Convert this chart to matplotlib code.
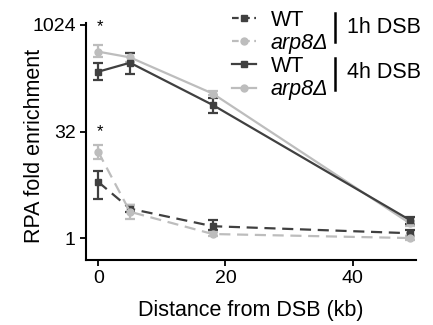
import matplotlib
matplotlib.use("Agg")
import matplotlib.pyplot as plt
from matplotlib.lines import Line2D

plt.rcParams['font.family'] = ['Liberation Sans', 'DejaVu Sans']

# --- datos ---
distance = [0, 5, 18, 49]

wt_1h = [6.2, 2.6, 1.47, 1.17]
wt_1h_lo = [3.6, 2.3, 1.30, 1.07]
wt_1h_hi = [8.9, 2.9, 1.80, 1.30]
arp8_1h = [16.5, 2.35, 1.14, 1.0]
arp8_1h_lo = [12.9, 1.85, 1.08, 0.95]
arp8_1h_hi = [20.7, 2.9, 1.22, 1.06]

wt_4h = [224, 300, 76, 1.8]
wt_4h_lo = [171, 208, 58, 1.6]
wt_4h_hi = [294, 416, 95, 2.0]
arp8_4h = [430, 357, 110, 1.62]
arp8_4h_lo = [362, 310, 104, 1.5]
arp8_4h_hi = [534, 410, 118, 1.75]

legend_labels = ['WT', 'arp8Δ', 'WT', 'arp8Δ']
group_labels = ['1h DSB', '4h DSB']

DARK = '#404040'
LIGHT = '#BDBDBD'
FS = 15.5

fig = plt.figure(figsize=(4.33, 3.25), dpi=100)
ax = fig.add_axes([0.199, 0.2, 0.762, 0.729])

series = [
    (wt_1h, wt_1h_lo, wt_1h_hi, DARK, 's', (0, (5, 3))),
    (arp8_1h, arp8_1h_lo, arp8_1h_hi, LIGHT, 'o', (0, (5, 3))),
    (arp8_4h, arp8_4h_lo, arp8_4h_hi, LIGHT, 'o', '-'),
    (wt_4h, wt_4h_lo, wt_4h_hi, DARK, 's', '-'),
]
for y, lo, hi, col, mk, ls in series:
    err = [[v - l for v, l in zip(y, lo)], [h - v for v, h in zip(y, hi)]]
    ax.errorbar(distance, y, yerr=err, color=col, marker=mk, markersize=5,
                linestyle=ls, linewidth=1.6, elinewidth=1.6, capsize=3.5,
                capthick=1.6)

ax.set_yscale('log', base=2)
ax.set_ylim(2 ** -1.03, 2 ** 10.09)
ax.set_xlim(-1.9, 50)
ax.set_yticks([1, 32, 1024])
ax.set_yticklabels(['1', '32', '1024'])
ax.set_yticks([], minor=True)
ax.set_xticks([0, 20, 40])
ax.tick_params(labelsize=14, width=1.3, length=4, color='black')
for s in ['top', 'right']:
    ax.spines[s].set_visible(False)
for s in ['left', 'bottom']:
    ax.spines[s].set_linewidth(1.5)

ax.set_xlabel('Distance from DSB (kb)', fontsize=FS, labelpad=9)
ax.set_ylabel('RPA fold enrichment', fontsize=FS)
ax.yaxis.set_label_coords(-0.125, 0.48)

# asteriscos
ax.text(0.3, 2 ** 9.9, '*', ha='center', va='center', fontsize=12)
ax.text(0.3, 2 ** 5.0, '*', ha='center', va='center', fontsize=12)

# leyenda
handles = [
    Line2D([], [], color=DARK, marker='s', markersize=5, linestyle=(0, (3, 2)), linewidth=1.6),
    Line2D([], [], color=LIGHT, marker='o', markersize=5, linestyle=(0, (3, 2)), linewidth=1.6),
    Line2D([], [], color=DARK, marker='s', markersize=5, linestyle='-', linewidth=1.6),
    Line2D([], [], color=LIGHT, marker='o', markersize=5, linestyle='-', linewidth=1.6),
]
leg = fig.legend(handles, legend_labels, loc='upper left', bbox_to_anchor=(0.531, 0.977),
                 frameon=False, fontsize=FS, handlelength=1.1, handletextpad=0.7,
                 labelspacing=0.1, borderpad=0, borderaxespad=0.1)
for t in leg.get_texts()[1::2]:
    t.set_fontstyle('italic')

fig.add_artist(Line2D([0.774, 0.774], [0.96, 0.871], color='black', linewidth=1.8))
fig.add_artist(Line2D([0.774, 0.774], [0.822, 0.723], color='black', linewidth=1.8))
fig.text(0.801, 0.914, group_labels[0], fontsize=FS, va='center')
fig.text(0.801, 0.778, group_labels[1], fontsize=FS, va='center')

fig.savefig('out.png', dpi=100)
